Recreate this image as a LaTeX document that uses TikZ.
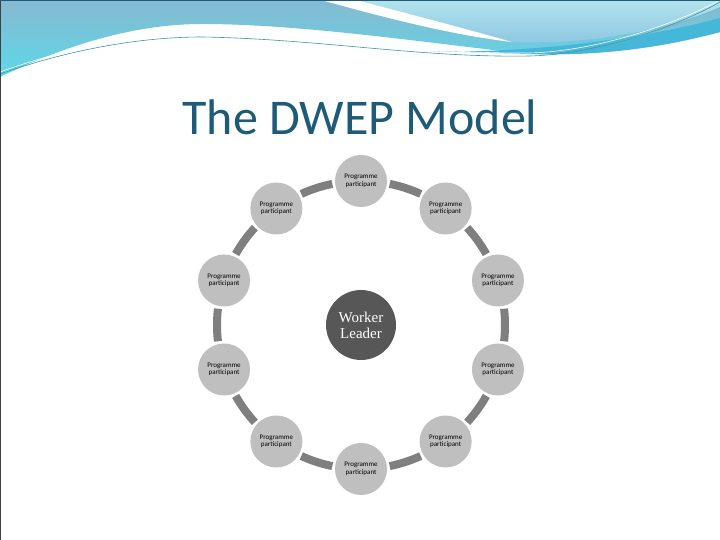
\documentclass[tikz,border=0pt]{standalone}
\usepackage{fontspec}
\setmainfont{Carlito}
\newfontfamily\leaderfont{Liberation Serif}
\usepackage{xcolor}
\usetikzlibrary{positioning,calc}
\definecolor{titleblue}{HTML}{1D5B78}
\definecolor{headtop}{HTML}{86B9D0}
\definecolor{headbot}{HTML}{5CD8E9}
\definecolor{lighttop}{HTML}{B2E2EC}
\definecolor{lightbot}{HTML}{8CC6E2}
\definecolor{bandblue}{HTML}{45B7D8}
\definecolor{waveline}{HTML}{3B97A6}
\definecolor{nodegray}{HTML}{BFBFBF}
\definecolor{ringgray}{HTML}{7F7F7F}
\definecolor{leadgray}{HTML}{575757}
\tikzset{
  participant/.style={circle, fill=nodegray, minimum size=52pt, inner sep=0pt,
                      align=center, font=\fontsize{7}{7.5}\selectfont},
  leader/.style={circle, fill=leadgray, minimum size=70pt, inner sep=0pt,
                 align=center, text=white, font=\leaderfont\fontsize{15}{16}\selectfont},
  ring/.style={draw=ringgray, line width=8pt},
}
\begin{document}
\begin{tikzpicture}[x=1pt,y=1pt]
  \useasboundingbox (0,0) rectangle (720,540);
  \fill[white] (0,0) rectangle (720,540);
  % header wave
  \shade[top color=headtop, bottom color=headbot]
    (0,540) -- (720,540) -- (720,508) .. controls (660,492) and (600,484) .. (528,486)
    .. controls (420,498) and (300,516) .. (202,516)
    .. controls (130,516) and (60,492) .. (0,463) -- cycle;
  \fill[bandblue]
    (430,489) .. controls (520,486) and (640,500) .. (720,522) -- (720,508)
    .. controls (660,492) and (600,484) .. (528,486) -- cycle;
  \shade[top color=lighttop, bottom color=lightbot]
    (356,540) .. controls (410,526) and (470,510) .. (512,498)
    .. controls (600,494) and (680,515) .. (720,533) -- (720,540) -- cycle;
  \fill[white]
    (321,540) .. controls (400,518) and (460,504) .. (512,498)
    .. controls (470,510) and (410,526) .. (356,540) -- cycle;
  \draw[waveline, line width=0.6pt]
    (0,466) .. controls (80,494) and (150,503) .. (202,503)
    .. controls (320,501) and (420,482) .. (530,484)
    .. controls (600,486) and (680,515) .. (720,538);
  \draw[white, line width=0.6pt]
    (0,468) .. controls (80,497) and (150,506) .. (202,506)
    .. controls (320,504) and (420,486) .. (530,487)
    .. controls (600,489) and (680,518) .. (720,540);
  \draw[waveline!70, line width=0.4pt]
    (540,486) .. controls (620,492) and (690,520) .. (720,532);
  % slide frame
  \draw[black!75, line width=2pt] (0,0) -- (0,540);
  \draw[titleblue, line width=1.5pt] (0,540) -- (720,540);
  % title
  \node[text=titleblue, font=\fontsize{50}{56}\selectfont] (title) at (360,423) {The DWEP Model};
  % cycle
  \node[leader] (lead) at (361,215) {Worker\\Leader};
  \foreach \i in {0,...,9} {
    \pgfmathsetmacro{\ang}{90+36*\i}
    \node[participant] (p\i) at ($(lead.center)+(\ang:144)$) {Programme\\participant};
    \draw[ring] ([shift={(\ang+11.5:144)}]lead.center) arc[start angle=\ang+11.5, end angle=\ang+24.5, radius=144];
  }
\end{tikzpicture}
\end{document}
